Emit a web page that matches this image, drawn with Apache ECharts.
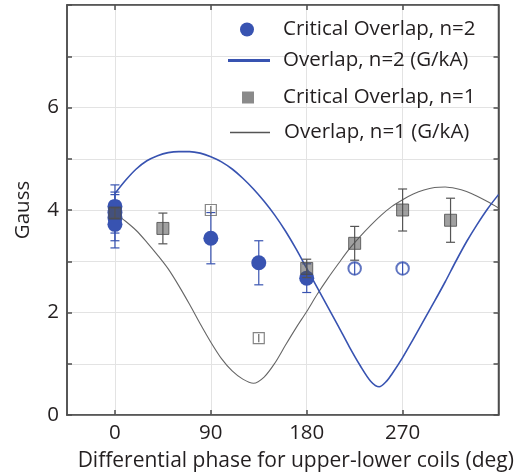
<!DOCTYPE html>
<html><head><meta charset="utf-8">
<script src="https://cdn.jsdelivr.net/npm/echarts@6/dist/echarts.min.js"></script>
<style>html,body{margin:0;padding:0;background:#fff}#c{width:515px;height:473px}</style>
</head><body><div id="c"></div>
<script>
// ---- data ----
const xTickValues = [0, 90, 180, 270];
const yLabelValues = [0, 2, 4, 6];

// Overlap curve n=2 (G/kA): x (deg), y (Gauss)
const n2CurveX = [0, 10, 20, 30, 40, 50, 60, 70, 80, 90, 100, 110, 120, 130, 140, 150, 160, 170, 180, 190, 200, 210, 220, 230, 240, 248, 255, 260, 270, 280, 290, 300, 310, 320, 330, 340, 350, 360];
const n2CurveY = [4.32, 4.58, 4.80, 4.96, 5.06, 5.12, 5.14, 5.14, 5.11, 5.04, 4.94, 4.80, 4.62, 4.41, 4.17, 3.90, 3.59, 3.24, 2.86, 2.48, 2.10, 1.72, 1.33, 0.97, 0.66, 0.55, 0.66, 0.80, 1.12, 1.48, 1.85, 2.22, 2.60, 3.00, 3.38, 3.72, 4.03, 4.30];
// Overlap curve n=1 (G/kA)
const n1CurveX = [0, 10, 20, 30, 40, 50, 60, 70, 80, 90, 100, 110, 120, 130, 140, 150, 160, 170, 180, 190, 200, 210, 220, 230, 240, 250, 260, 270, 280, 290, 300, 310, 320, 330, 340, 350, 360];
const n1CurveY = [3.94, 3.78, 3.60, 3.37, 3.12, 2.85, 2.52, 2.16, 1.78, 1.42, 1.10, 0.86, 0.70, 0.62, 0.74, 1.01, 1.36, 1.70, 2.02, 2.36, 2.67, 2.96, 3.24, 3.48, 3.70, 3.90, 4.07, 4.20, 4.31, 4.39, 4.44, 4.45, 4.42, 4.36, 4.27, 4.16, 4.04];

// Critical overlap n=2
const n2FilledX = [0, 0, 0, 0, 90, 135, 180];
const n2FilledY = [4.07, 3.95, 3.85, 3.72, 3.45, 2.97, 2.67];
const n2FilledErr = [0.42, 0.40, 0.45, 0.46, 0.50, 0.43, 0.28];
const n2OpenX = [225, 270];
const n2OpenY = [2.86, 2.86];
const n2OpenErr = [0.13, 0.13];

// Critical overlap n=1
const n1FilledX = [0, 45, 180, 225, 270, 315];
const n1FilledY = [3.94, 3.64, 2.86, 3.35, 4.00, 3.80];
const n1FilledErr = [0.10, 0.30, 0.18, 0.33, 0.41, 0.43];
const n1OpenX = [90, 135];
const n1OpenY = [4.00, 1.50];
const n1OpenErr = [0.08, 0.08];

const names = ['Critical Overlap, n=2', 'Overlap, n=2 (G/kA)', 'Critical Overlap, n=1', 'Overlap, n=1 (G/kA)'];

// ---- styling ----
const BLUE = '#3853b1';
const GRAYFILL = 'rgba(80,80,80,0.68)';
const GRAYEDGE = '#4a4a4a';
const FONT = 'Open Sans';
const TXT = '#231f20';
const FS = 20.5;

const zip = (xs, ys) => xs.map((x, i) => [x, ys[i]]);
const zipErr = (xs, ys, es) => xs.map((x, i) => [x, ys[i] - es[i], ys[i] + es[i]]);

function errSeries(xs, ys, es, color, cap, z) {
  return {
    type: 'custom', silent: true, z: z,
    xAxisIndex: 0, yAxisIndex: 0,
    data: zipErr(xs, ys, es),
    encode: { x: 0, y: [1, 2] },
    renderItem: function (params, api) {
      const x = api.value(0), lo = api.value(1), hi = api.value(2);
      const a = api.coord([x, hi]), b = api.coord([x, lo]);
      const st = { stroke: color, lineWidth: 1.2 };
      const ch = [{ type: 'line', shape: { x1: a[0], y1: a[1], x2: b[0], y2: b[1] }, style: st }];
      if (cap > 0) {
        ch.push({ type: 'line', shape: { x1: a[0] - cap, y1: a[1], x2: a[0] + cap, y2: a[1] }, style: st });
        ch.push({ type: 'line', shape: { x1: b[0] - cap, y1: b[1], x2: b[0] + cap, y2: b[1] }, style: st });
      }
      return { type: 'group', children: ch };
    }
  };
}

function legendOne(name, icon, left, top, w, h, padLeft, color) {
  return {
    data: [{ name: name, icon: icon, itemStyle: { color: color, borderWidth: 0, opacity: 1 } }],
    left: left, top: top, padding: 0,
    itemWidth: w, itemHeight: h,
    selectedMode: false,
    textStyle: { fontFamily: FONT, fontSize: FS, color: TXT, padding: [0, 0, 0, padLeft] }
  };
}

const axisLineStyle = { color: '#4d4d4d', width: 1.5 };
const gridLine = { show: true, lineStyle: { color: '#e3e3e3', width: 1 } };

const option = {
  backgroundColor: '#fff',
  animation: false,
  grid: { left: 67, right: 16.5, top: 5, bottom: 58, containLabel: false, outerBoundsMode: 'none',
          show: true, borderColor: '#4d4d4d', borderWidth: 1.5, backgroundColor: 'transparent' },
  legend: [
    legendOne(names[0], 'circle', 240, 19, 14, 14, 24, BLUE),
    legendOne(names[1], 'rect', 228, 50, 42, 3, 8, BLUE),
    legendOne(names[2], 'rect', 242, 87, 12, 12, 24, '#8a8a8a'),
    legendOne(names[3], 'rect', 230, 122, 40, 1.5, 9, '#555')
  ],
  xAxis: [{
    type: 'value', min: -45, max: 360,
    axisLine: { show: true, onZero: false, lineStyle: axisLineStyle },
    axisTick: { show: true, inside: true, length: 5, customValues: xTickValues, lineStyle: axisLineStyle },
    axisLabel: { customValues: xTickValues, fontFamily: FONT, fontSize: FS, color: TXT, margin: 8 },
    splitLine: gridLine,
    name: 'Differential phase for upper-lower coils (deg)',
    nameLocation: 'middle', nameGap: 36,
    nameTextStyle: { fontFamily: FONT, fontSize: 21, color: TXT, padding: [0, 0, 0, 26] }
  }, {
    type: 'value', min: -45, max: 360, position: 'top',
    axisLine: { show: true, onZero: false, lineStyle: axisLineStyle },
    axisTick: { show: true, inside: true, length: 5, customValues: xTickValues, lineStyle: axisLineStyle },
    axisLabel: { show: false, customValues: xTickValues },
    splitLine: { show: false }
  }],
  yAxis: [{
    type: 'value', min: 0, max: 8, interval: 1,
    axisLine: { show: true, onZero: false, lineStyle: axisLineStyle },
    axisTick: { show: true, inside: true, length: 5, lineStyle: axisLineStyle },
    axisLabel: {
      fontFamily: FONT, fontSize: FS, color: TXT, margin: 8,
      formatter: v => (yLabelValues.indexOf(v) >= 0 ? String(v) : '')
    },
    splitLine: gridLine,
    name: 'Gauss', nameLocation: 'middle', nameGap: 33,
    nameTextStyle: { fontFamily: FONT, fontSize: FS, color: TXT }
  }, {
    type: 'value', min: 0, max: 8, interval: 1, position: 'right',
    axisLine: { show: true, onZero: false, lineStyle: axisLineStyle },
    axisTick: { show: true, inside: true, length: 5, lineStyle: axisLineStyle },
    axisLabel: { show: false },
    splitLine: { show: false }
  }],
  series: [
    { name: names[3], type: 'line', xAxisIndex: 1, yAxisIndex: 1, data: zip(n1CurveX, n1CurveY), smooth: 0.3, showSymbol: false, symbol: 'none',
      color: '#555', lineStyle: { color: '#666', width: 1.1 }, z: 2 },
    { name: names[1], type: 'line', data: zip(n2CurveX, n2CurveY), smooth: 0.3, showSymbol: false, symbol: 'none',
      color: BLUE, lineStyle: { color: BLUE, width: 1.6 }, z: 2 },
    errSeries(n2FilledX, n2FilledY, n2FilledErr, BLUE, 4.5, 3),
    errSeries(n2OpenX, n2OpenY, n2OpenErr, BLUE, 0, 3),
    { name: names[0], type: 'scatter', data: zip(n2FilledX, n2FilledY), symbol: 'circle', symbolSize: 15,
      color: BLUE, itemStyle: { color: BLUE, opacity: 1 }, z: 4 },
    { name: 'open n=2', type: 'scatter', data: zip(n2OpenX, n2OpenY), symbol: 'circle', symbolSize: 12.5,
      itemStyle: { color: 'rgba(255,255,255,0)', borderColor: BLUE, borderWidth: 2 }, z: 4 },
    errSeries(n1FilledX, n1FilledY, n1FilledErr, '#555', 4.5, 5),
    errSeries(n1OpenX, n1OpenY, n1OpenErr, '#666', 0, 5),
    { name: names[2], type: 'scatter', data: zip(n1FilledX, n1FilledY), symbol: 'rect', symbolSize: 12,
      color: '#8a8a8a', itemStyle: { color: GRAYFILL, borderColor: GRAYEDGE, borderWidth: 1 }, z: 6 },
    { name: 'open n=1', type: 'scatter', data: zip(n1OpenX, n1OpenY), symbol: 'rect', symbolSize: 11,
      itemStyle: { color: 'rgba(255,255,255,0)', borderColor: '#666', borderWidth: 1.2 }, z: 6 }
  ]
};

const chart = echarts.init(document.getElementById('c'), null, { renderer: 'canvas' });
chart.setOption(option);
</script>
</body></html>
